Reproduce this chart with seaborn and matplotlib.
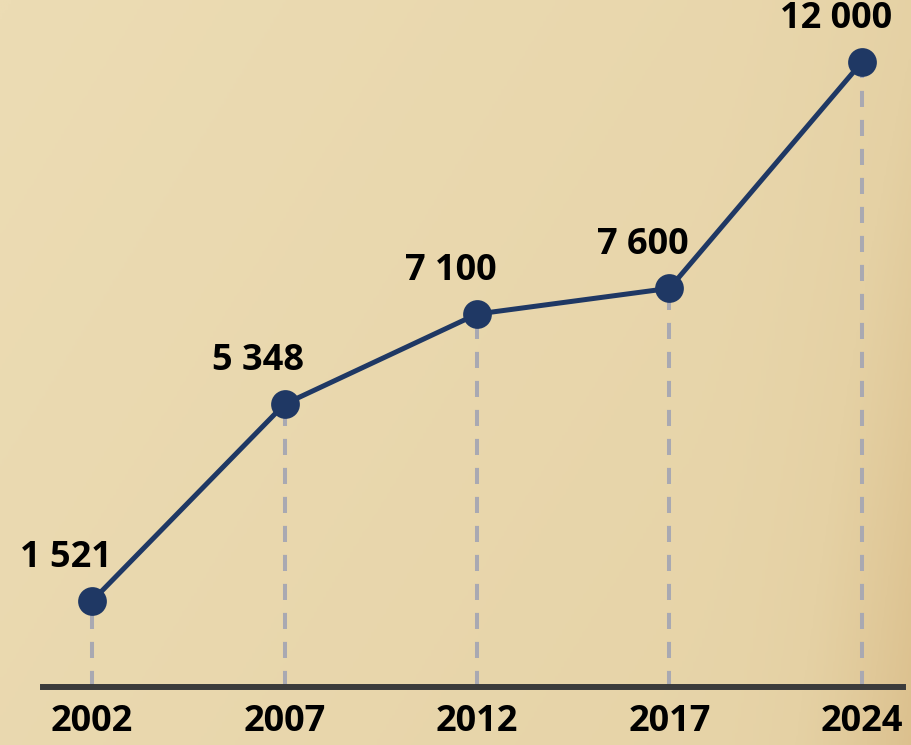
import numpy as np
import pandas as pd
import matplotlib
matplotlib.use("Agg")
import matplotlib.pyplot as plt
import seaborn as sns
from matplotlib.colors import LinearSegmentedColormap

# --- Data ---
years = ["2002", "2007", "2012", "2017", "2024"]
values = [1521, 5348, 7100, 7600, 12000]
value_labels = ["1 521", "5 348", "7 100", "7 600", "12 000"]

LINE_COLOR = "#1f3864"
DASH_COLOR = "#a9a9b2"
AXIS_COLOR = "#3b3b3b"

sns.set_style("white")
plt.rcParams["font.family"] = ["Open Sans", "DejaVu Sans"]

df = pd.DataFrame({"year": years, "value": values})

fig = plt.figure(figsize=(9.11, 7.45), dpi=100)

# parchment-like background (smooth shading, a bit darker towards the right edge)
bg = fig.add_axes([0, 0, 1, 1], zorder=-10)
gx, gy = np.meshgrid(np.linspace(0, 1, 300), np.linspace(0, 1, 250))
shade = 0.3 * gx + 0.15 * gy + 0.35 * (np.clip(gx - 0.75, 0, 1) / 0.25) ** 2 * (0.5 + 0.5 * gy)
cmap = LinearSegmentedColormap.from_list("parchment", ["#ecdcb4", "#e5d1a4", "#d6b680"])
bg.imshow(shade, cmap=cmap, aspect="auto", extent=[0, 1, 0, 1], vmin=0, vmax=1.0, origin="upper")
bg.axis("off")

ax = fig.add_axes([43 / 911, 58 / 745, (903 - 43) / 911, 687 / 745])
ax.patch.set_alpha(0)

y_base = -150
# dashed drop lines
ax.vlines(range(len(years)), y_base, values, colors=DASH_COLOR, linestyles=(0, (4, 3.2)),
          linewidth=2.9, zorder=1)

sns.pointplot(data=df, x="year", y="value", color=LINE_COLOR, markers="o",
              markersize=18, linewidth=3.6, errorbar=None, ax=ax, zorder=3)

for i, (v, lab) in enumerate(zip(values, value_labels)):
    ax.annotate(lab, (i, v), xytext=(-19, 24.5), textcoords="offset points",
                ha="center", va="baseline", fontsize=26, fontweight="bold", color="black")

ax.set_xlim((43 - 92) / 192.5, 4 + (903 - 862) / 192.5)
ax.set_ylim(y_base, 13205)
ax.set_yticks([])
ax.set_xlabel("")
ax.set_ylabel("")
ax.tick_params(axis="x", length=0, pad=12, labelsize=26)
for t in ax.get_xticklabels():
    t.set_fontweight("bold")
    t.set_color("black")
for s in ["top", "left", "right"]:
    ax.spines[s].set_visible(False)
ax.spines["bottom"].set_color(AXIS_COLOR)
ax.spines["bottom"].set_linewidth(4.3)
ax.grid(False)

fig.savefig("out.png", dpi=100)
